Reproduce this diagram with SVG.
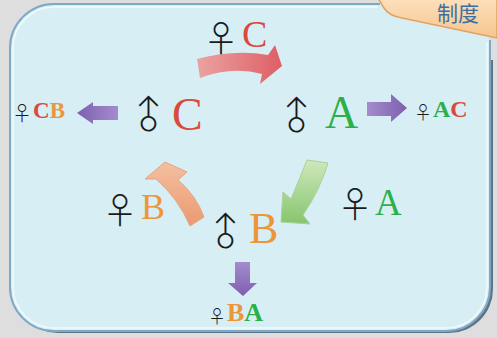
<svg xmlns="http://www.w3.org/2000/svg" width="497" height="338" viewBox="0 0 497 338">
<style>
.sym{font-family:"Noto Sans CJK JP","DejaVu Sans",sans-serif;font-weight:300;fill:#1a1a1a;text-anchor:middle}
.big{font-family:"Liberation Serif","Times New Roman",serif}
.lab{font-family:"Liberation Serif","Times New Roman",serif;font-weight:bold}
.r{fill:#d94a3e}.g{fill:#2bb04a}.o{fill:#ec963a}
</style>
<defs>
<linearGradient id="pl" x1="0" y1="0" x2="1" y2="0"><stop offset="0" stop-color="#7e5fb0"/><stop offset="1" stop-color="#a48ccc"/></linearGradient>
<linearGradient id="pr" x1="0" y1="0" x2="1" y2="0"><stop offset="0" stop-color="#a48ccc"/><stop offset="1" stop-color="#7e5fb0"/></linearGradient>
<linearGradient id="pd" x1="0" y1="0" x2="0" y2="1"><stop offset="0" stop-color="#a48ccc"/><stop offset="1" stop-color="#7e5fb0"/></linearGradient>
<linearGradient id="rg" x1="0" y1="0" x2="1" y2="0"><stop offset="0" stop-color="#eba2a2"/><stop offset="1" stop-color="#de5f64"/></linearGradient>
<linearGradient id="og" x1="0" y1="1" x2="0" y2="0"><stop offset="0" stop-color="#eb9a70"/><stop offset="1" stop-color="#f4bfa0"/></linearGradient>
<linearGradient id="gg" x1="0" y1="0" x2="0" y2="1"><stop offset="0" stop-color="#cfe8bb"/><stop offset="1" stop-color="#86c56e"/></linearGradient>
<linearGradient id="tab" x1="0" y1="0" x2="0" y2="1"><stop offset="0" stop-color="#fde0bc"/><stop offset="1" stop-color="#f6c48e"/></linearGradient>
</defs>
<rect width="497" height="338" fill="#dedede"/>
<g id="panel">
<path d="M14,60 V289 A44,44 0 0 0 58,333 H449 A44,44 0 0 0 493,289 V60 Z" fill="#5d7584"/>
<rect x="10" y="4" width="480" height="327" rx="44" fill="#d8eef5"/>
<path d="M380,4 H54 A44,44 0 0 0 10,48 V287 A44,44 0 0 0 54,331 H446 A44,44 0 0 0 490,287 V40" fill="none" stroke="#7ea8c4" stroke-width="2"/>
<path d="M378,7 H54 A41,41 0 0 0 13,48 V287 A41,41 0 0 0 54,328 H446 A41,41 0 0 0 487,287 V42" fill="none" stroke="#ffffff" stroke-opacity="0.7" stroke-width="1.5"/>
</g>
<g id="tab">
<path d="M378,-2 L384,8 Q389,16 402,18 L497,38 L497,-2 Z" fill="url(#tab)" stroke="#e0a262" stroke-width="1.5"/>
<text x="437" y="21" font-family="'Noto Sans CJK SC','Noto Sans CJK TC',sans-serif" font-size="21" fill="#3b6fa2">制度</text>
</g>
<g id="connectors">
<path id="arrow-red" d="M197,59 Q235,49 268,55 L275,45 L282,66 L260,84 L262,74 Q232,66 200,78 Z" fill="url(#rg)"/>
<path id="arrow-orange" d="M165,162 L187,172 L178,180 Q196,195 204,217 L190,226 Q178,198 156,179 L145,179 Z" fill="url(#og)" stroke="#e2a585" stroke-width="1"/>
<path id="arrow-green" d="M281,222 L283,192 L291,199 Q300,178 307,160 L328,163 Q320,190 303,215 L310,224 Z" fill="url(#gg)" stroke="#a8d296" stroke-width="1"/>
<path id="arrow-left" d="M77,113 L93,102 L93,106 L118,106 L118,120 L93,120 L93,124 Z" fill="url(#pl)"/>
<path id="arrow-right" d="M407,108 L391,94 L391,102 L367,102 L367,116 L391,116 L391,122 Z" fill="url(#pr)"/>
<path id="arrow-down" d="M243,296 L228,283 L235,283 L235,262 L250,262 L250,283 L257,283 Z" fill="url(#pd)"/>
</g>
<g id="female-C">
<text class="sym" x="221" y="36" font-size="36" dominant-baseline="central">♀</text>
<text class="big r" x="242" y="47" font-size="38">C</text>
</g>
<g id="male-C">
<text class="sym" x="147" y="113" font-size="38" dominant-baseline="central" transform="rotate(-45 147 113)">♂</text>
<text class="big r" x="172" y="130" font-size="46">C</text>
</g>
<g id="male-A">
<text class="sym" x="295" y="114" font-size="38" dominant-baseline="central" transform="rotate(-45 295 114)">♂</text>
<text class="big g" x="325" y="128" font-size="46">A</text>
</g>
<g id="male-B">
<text class="sym" x="224" y="230" font-size="38" dominant-baseline="central" transform="rotate(-45 224 230)">♂</text>
<text class="big o" x="249" y="243" font-size="44">B</text>
</g>
<g id="female-B">
<text class="sym" x="120" y="208" font-size="36" dominant-baseline="central">♀</text>
<text class="big o" x="141" y="219" font-size="36">B</text>
</g>
<g id="female-A">
<text class="sym" x="355" y="202" font-size="36" dominant-baseline="central">♀</text>
<text class="big g" x="375" y="215" font-size="37">A</text>
</g>
<g id="offspring-CB">
<text class="sym" x="22" y="112" font-size="20" dominant-baseline="central">♀</text>
<text class="lab" x="33" y="118" font-size="23"><tspan class="r">C</tspan><tspan class="o">B</tspan></text>
</g>
<g id="offspring-AC">
<text class="sym" x="423" y="111" font-size="18" dominant-baseline="central">♀</text>
<text class="lab" x="433" y="117" font-size="24"><tspan class="g">A</tspan><tspan class="r">C</tspan></text>
</g>
<g id="offspring-BA">
<text class="sym" x="217" y="315" font-size="18" dominant-baseline="central">♀</text>
<text class="lab" x="227" y="321" font-size="26"><tspan class="o">B</tspan><tspan class="g">A</tspan></text>
</g>
</svg>
